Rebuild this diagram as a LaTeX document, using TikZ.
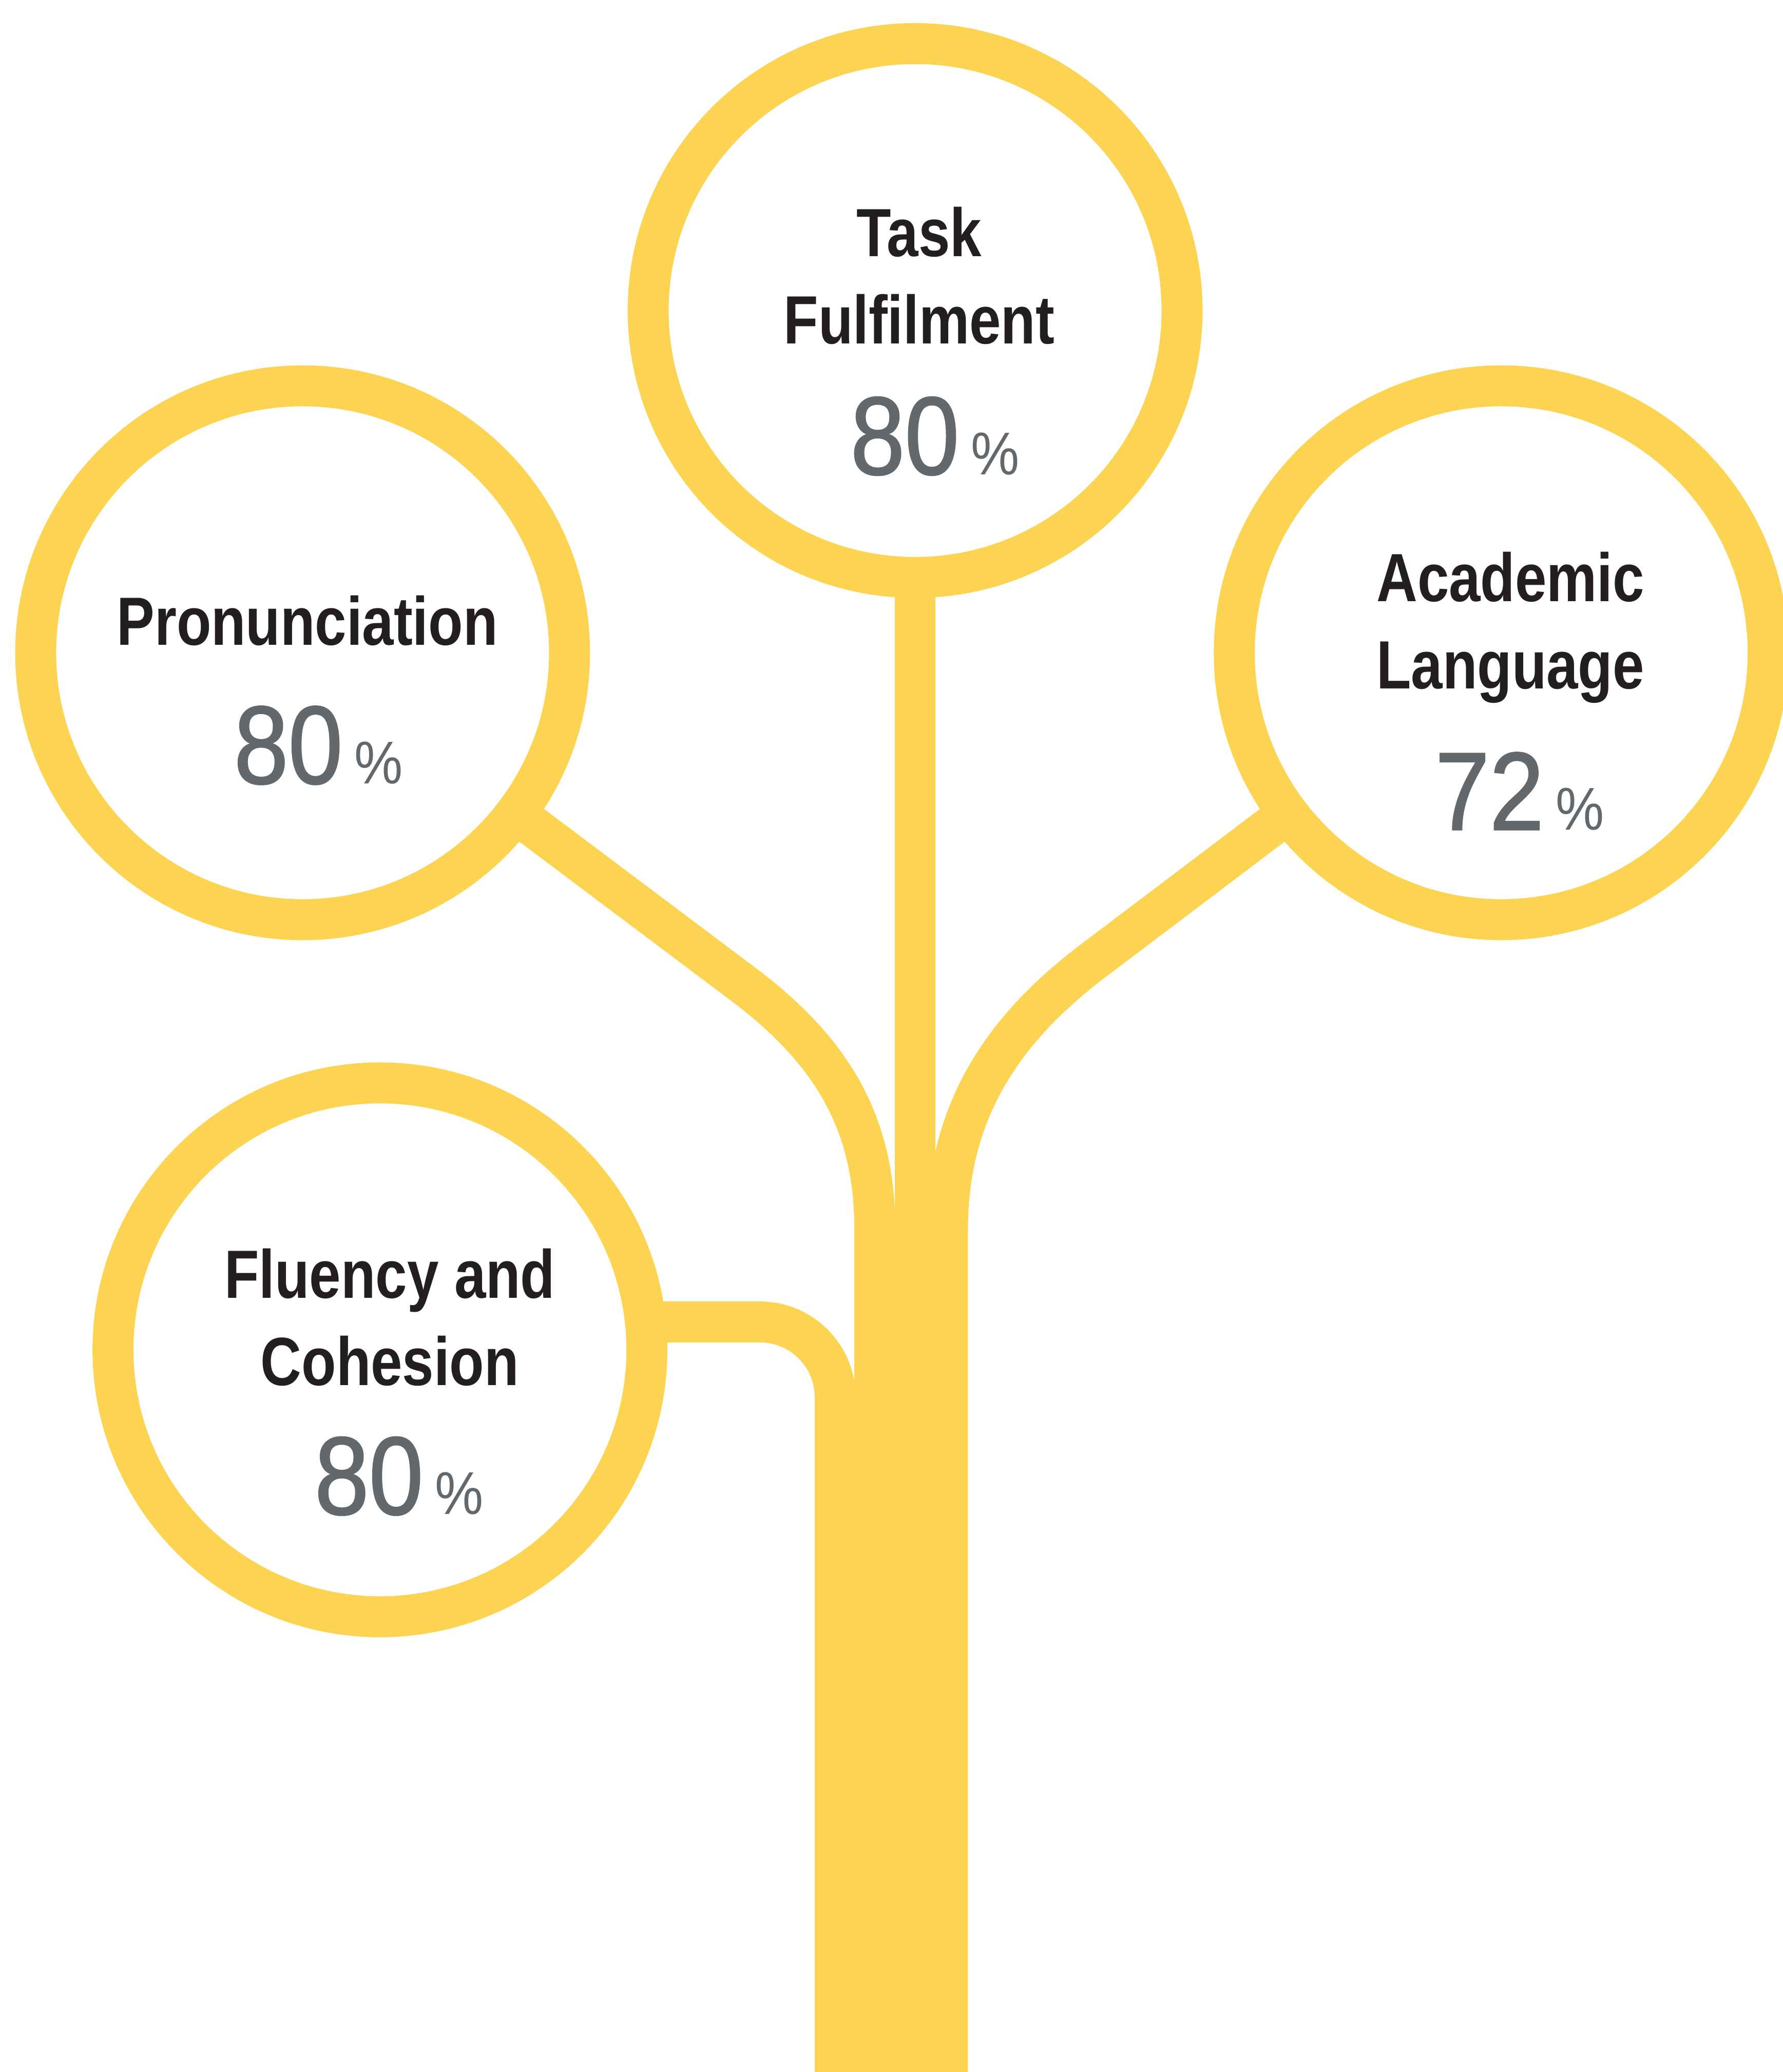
\documentclass[tikz,border=0pt]{standalone}
\usepackage{fontspec}
\usepackage{xcolor}
\newfontfamily\labelfont[FakeStretch=0.83]{Liberation Sans}
\newfontfamily\numfont[FakeStretch=0.88, FakeBold=1.2]{Liberation Sans}
\newfontfamily\pctfont[FakeStretch=0.9]{Liberation Sans}
\definecolor{branchyellow}{HTML}{FDD451}
\definecolor{labelblack}{HTML}{231F20}
\definecolor{numgray}{HTML}{63686D}
\newcommand{\scoreval}[1]{{\numfont\fontsize{23.9pt}{24pt}\selectfont #1}\hspace{0.09cm}{\pctfont\fontsize{13pt}{13pt}\selectfont\%}}

\begin{document}
\begin{tikzpicture}[
    ring/.style={circle, draw=branchyellow, fill=white, line width=0.31cm,
                 minimum size=4.04cm, inner sep=0pt, outer sep=0pt},
    branch/.style={draw=branchyellow, line width=0.31cm},
    skill/.style={font=\labelfont\bfseries\fontsize{14.7pt}{18.8pt}\selectfont,
                  text=labelblack, align=center, inner sep=0pt,
                  anchor=south, text depth=0pt},
    score/.style={text=numgray, inner sep=0pt, anchor=base},
]
\useasboundingbox (0,0) rectangle (13.49,15.68);

% Kreise
\node[ring] (task) at (6.925, 13.33) {};
\node[ring] (pron) at (2.29, 10.74) {};
\node[ring] (acad) at (11.36, 10.74) {};
\node[ring] (flu)  at (2.875, 5.465) {};

% Stamm
\coordinate (root) at (6.925, 0);
\fill[branchyellow] (6.47,0) rectangle (7.32,6.30);
\fill[branchyellow] (6.17,0) rectangle (7.32,4.90);

% Zweige
\draw[branch] (task.south) -- (task.south |- root);
\draw[branch] (pron.-37) -- (5.60,8.25)
    .. controls (6.30,7.73) and (6.62,7.18) .. (6.62,6.38) -- (6.62,0);
\draw[branch] (acad.217) -- (8.30,8.43)
    .. controls (7.60,7.91) and (7.17,7.28) .. (7.17,6.38) -- (7.17,0);
\draw[branch, rounded corners=0.57cm] (flu.6.7) -| (6.32,0);

% Texte
\node[skill] (tasklbl) at ([xshift=0.03cm, yshift=-0.26cm]task.center) {Task\\Fulfilment};
\node[score] (taskpct) at ([xshift=0.15cm, yshift=-1.24cm]task.center) {\scoreval{80}};

\node[skill] (pronlbl) at ([xshift=0.035cm, yshift=0.05cm]pron.center) {Pronunciation};
\node[score] (pronpct) at ([xshift=0.12cm, yshift=-0.99cm]pron.center) {\scoreval{80}};

\node[skill] (acadlbl) at ([xshift=0.07cm, yshift=-0.28cm]acad.center) {Academic\\Language};
\node[score] (acadpct) at ([xshift=0.14cm, yshift=-1.34cm]acad.center) {\scoreval{72}};

\node[skill] (flulbl) at ([xshift=0.075cm, yshift=-0.275cm]flu.center) {Fluency and\\Cohesion};
\node[score] (flupct) at ([xshift=0.145cm, yshift=-1.245cm]flu.center) {\scoreval{80}};

\end{tikzpicture}
\end{document}
